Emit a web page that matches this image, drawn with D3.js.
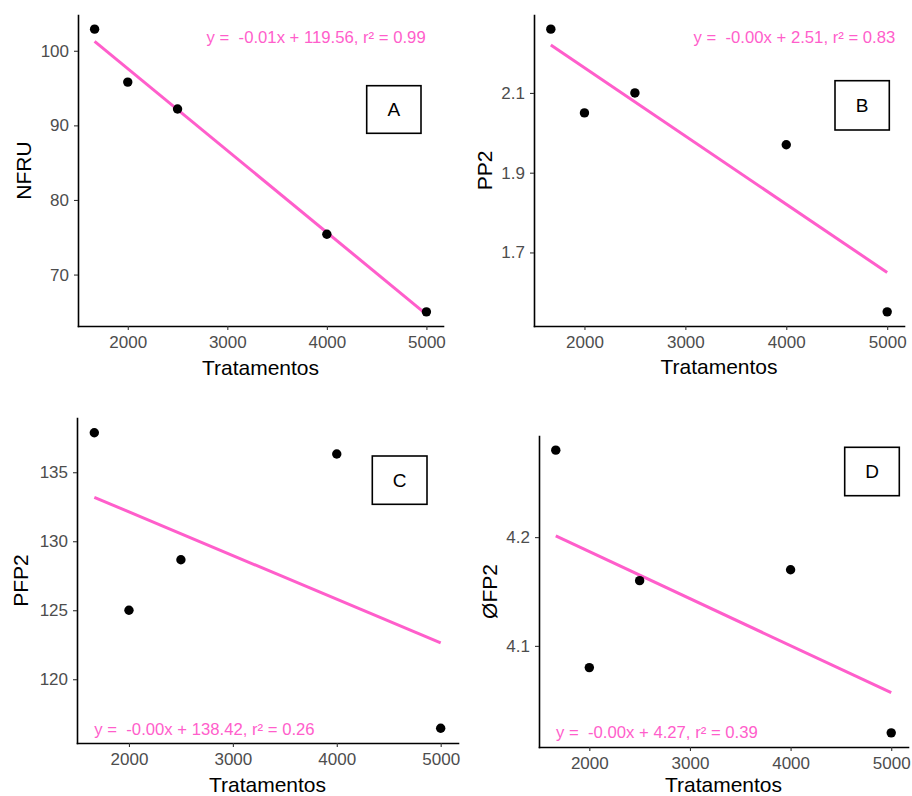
<!DOCTYPE html>
<html><head><meta charset="utf-8">
<script src="https://cdn.jsdelivr.net/npm/d3@7"></script>
<style>
body{margin:0;background:#fff;}
svg{display:block;font-family:"Liberation Sans",Arial,sans-serif;}
</style></head>
<body>
<svg id="chart" width="912" height="796"></svg>
<script>
// ---- data ----
const tratamentos = [1666.67, 2000, 2500, 4000, 5000];
const nfru = [102.9, 95.8, 92.2, 75.4, 65.0];
const pp2 = [2.26, 2.05, 2.10, 1.97, 1.551];
const pfp2 = [137.86, 125.0, 128.66, 136.32, 116.45];
const ofp2 = [4.28, 4.08, 4.16, 4.17, 4.02];
const xTicks = [2000, 3000, 4000, 5000];
const yTicksA = [70, 80, 90, 100];
const yTicksB = [1.7, 1.9, 2.1];
const yTicksC = [120, 125, 130, 135];
const yTicksD = [4.1, 4.2];
const eqA = "y =  -0.01x + 119.56, r\u00B2 = 0.99";
const eqB = "y =  -0.00x + 2.51, r\u00B2 = 0.83";
const eqC = "y =  -0.00x + 138.42, r\u00B2 = 0.26";
const eqD = "y =  -0.00x + 4.27, r\u00B2 = 0.39";

const pink = "#FF5ECB";
const panels = [
  {y: nfru, yt: yTicksA, fmt: d3.format("d"), yTitle: "NFRU", tag: "A", eq: eqA,
   box: [78, 15, 443, 326], xTitleY: 375, yTitleX: 23,
   eqPos: {x: 347.7, y: 28, anchor: "end"}, tagBox: [288.7, 70.7, 54.3, 47.6]},
  {y: pp2, yt: yTicksB, fmt: d3.format(".1f"), yTitle: "PP2", tag: "B", eq: eqB,
   box: [534, 15, 904, 326], xTitleY: 374, yTitleX: 484,
   eqPos: {x: 361.3, y: 28, anchor: "end"}, tagBox: [301, 65.7, 54.3, 49.3]},
  {y: pfp2, yt: yTicksC, fmt: d3.format("d"), yTitle: "PFP2", tag: "C", eq: eqC,
   box: [77, 418, 458, 743], xTitleY: 792, yTitleX: 20,
   eqPos: {x: 17.3, y: 317, anchor: "start"}, tagBox: [295.3, 38, 54.7, 48.3]},
  {y: ofp2, yt: yTicksD, fmt: d3.format(".1f"), yTitle: "\u00D8FP2", tag: "D", eq: eqD,
   box: [539, 436, 908, 747], xTitleY: 792, yTitleX: 489,
   eqPos: {x: 17, y: 302.3, anchor: "start"}, tagBox: [305.7, 11.3, 54.6, 48.4]}
];

const svg = d3.select("#chart");

function expand(ext) { const r = ext[1] - ext[0]; return [ext[0] - 0.05 * r, ext[1] + 0.05 * r]; }

function linfit(xs, ys) {
  const mx = d3.mean(xs), my = d3.mean(ys);
  let sxy = 0, sxx = 0;
  xs.forEach((x, i) => { sxy += (x - mx) * (ys[i] - my); sxx += (x - mx) * (x - mx); });
  const b = sxy / sxx; return {b: b, a: my - b * mx};
}

panels.forEach(p => {
  const [L, T, R, B] = p.box;
  const x = d3.scaleLinear().domain(expand(d3.extent(tratamentos))).range([L, R]);
  const y = d3.scaleLinear().domain(expand(d3.extent(p.y))).range([B, T]);
  const g = svg.append("g");

  const xa = g.append("g").attr("transform", `translate(0,${B})`)
    .call(d3.axisBottom(x).tickValues(xTicks).tickSizeInner(4).tickSizeOuter(0).tickPadding(6).tickFormat(d3.format("d")));
  const ya = g.append("g").attr("transform", `translate(${L},0)`)
    .call(d3.axisLeft(y).tickValues(p.yt).tickSizeInner(4).tickSizeOuter(0).tickPadding(5).tickFormat(p.fmt));
  [xa, ya].forEach(a => {
    a.select(".domain").attr("stroke", "#000").attr("stroke-width", 1.6).attr("stroke-linecap", "square");
    a.selectAll(".tick line").attr("stroke", "#333").attr("stroke-width", 1.1);
    a.selectAll(".tick text").attr("fill", "#4D4D4D").style("font-size", "17px");
  });
  xa.selectAll(".tick text").attr("dy", "0.72em");

  // regression line
  const f = linfit(tratamentos, p.y);
  const x0 = d3.min(tratamentos), x1 = d3.max(tratamentos);
  g.append("path")
    .attr("d", d3.line()([[x(x0), y(f.a + f.b * x0)], [x(x1), y(f.a + f.b * x1)]]))
    .attr("stroke", pink).attr("stroke-width", 3).attr("fill", "none");

  // points
  g.selectAll("circle.pt").data(tratamentos).join("circle")
    .attr("cx", d => x(d)).attr("cy", (d, i) => y(p.y[i])).attr("r", 4.7).attr("fill", "#000");

  // equation
  g.append("text").attr("x", L + p.eqPos.x).attr("y", T + p.eqPos.y)
    .attr("text-anchor", p.eqPos.anchor).attr("fill", pink)
    .style("font-size", "16.7px").style("white-space", "pre").attr("xml:space", "preserve").text(p.eq);

  // tag box
  const [bx, by, bw, bh] = p.tagBox;
  g.append("rect").attr("x", L + bx).attr("y", T + by).attr("width", bw).attr("height", bh)
    .attr("fill", "#fff").attr("stroke", "#000").attr("stroke-width", 1.6);
  g.append("text").attr("x", L + bx + bw / 2).attr("y", T + by + bh / 2).attr("dy", "0.36em")
    .attr("text-anchor", "middle").style("font-size", "19px").attr("fill", "#000").text(p.tag);

  // titles
  g.append("text").attr("x", (L + R) / 2).attr("y", p.xTitleY).attr("text-anchor", "middle")
    .style("font-size", "21px").attr("fill", "#000").text("Tratamentos");
  g.append("text").attr("transform", `translate(${p.yTitleX},${(T + B) / 2}) rotate(-90)`)
    .attr("text-anchor", "middle").attr("dy", "0.36em")
    .style("font-size", "21px").attr("fill", "#000").text(p.yTitle);
});
</script>
</body></html>
